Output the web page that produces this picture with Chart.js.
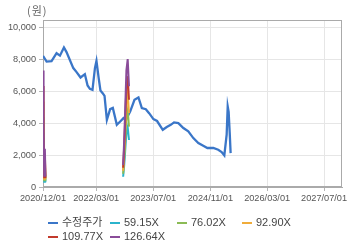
<!DOCTYPE html>
<html>
<head>
<meta charset="utf-8">
<script src="https://cdn.jsdelivr.net/npm/chart.js@4.4.0/dist/chart.umd.min.js"></script>
<style>
  html, body { margin: 0; padding: 0; background: #fff; }
  #wrap { position: relative; width: 360px; height: 248px; font-family: "Liberation Sans", "Noto Sans CJK KR", sans-serif; }
  #unit { position: absolute; left: 27px; top: 2px; font-size: 11px; color: #666; font-family: "Noto Sans CJK KR", sans-serif; letter-spacing: 1px; }
  .lg { position: absolute; font-size: 11px; color: #444; white-space: nowrap; line-height: 12px; }
  .lg i { display: inline-block; width: 10px; height: 2px; margin-right: 4px; vertical-align: middle; }
</style>
</head>
<body>
<div id="wrap">
  <canvas id="chart" width="360" height="248"></canvas>
  <div id="unit">(원)</div>
  <div id="legend"></div>
</div>
<script>
// 수정주가 (adjusted price)
const priceDates = [
  '2020/12/01', '2021/01/01', '2021/02/12', '2021/03/27', '2021/04/25', '2021/05/29',
  '2021/06/20', '2021/08/17', '2021/09/14', '2021/10/18', '2021/11/24', '2021/12/17',
  '2022/01/06', '2022/01/28', '2022/02/18', '2022/03/03', '2022/03/22', '2022/04/06',
  '2022/04/25', '2022/05/11', '2022/05/31', '2022/06/28', '2022/07/21', '2022/08/24',
  '2022/09/22', '2022/10/20', '2022/11/09', '2022/12/16', '2023/01/22', '2023/02/25',
  '2023/03/26', '2023/04/29', '2023/05/27', '2023/07/03', '2023/08/03', '2023/09/21',
  '2023/10/25', '2023/11/28', '2023/12/26', '2024/02/01', '2024/03/15', '2024/04/26',
  '2024/06/08', '2024/07/21', '2024/09/01', '2024/10/06', '2024/11/26', '2025/01/07',
  '2025/02/05', '2025/02/28', '2025/03/20', '2025/03/29', '2025/04/06', '2025/04/15',
  '2025/04/23'
];
const priceValues = [
  8200, 7850, 7870, 8370, 8220, 8730,
  8440, 7440, 7190, 6850, 7060, 6350,
  6140, 6080, 7440, 7890, 6810, 6040,
  5870, 5700, 4200, 4870, 4950, 3890,
  4100, 4310, 4200, 4720, 5460, 5600,
  4940, 4870, 4620, 4250, 4130, 3580,
  3750, 3890, 4040, 4000, 3690, 3480,
  3060, 2750, 2580, 2440, 2440, 2330,
  2190, 1980, 3270, 5040, 4700, 3400,
  2120
];

// PER 밴드 (null = 구간 끊김)
const bandDates = [
  '2020/12/01', '2020/12/06', '2020/12/11', '2020/12/17', '2020/12/22',
  '2021/06/01',
  '2022/10/17', '2022/10/26', '2022/11/03', '2022/11/14', '2022/11/25', '2022/12/06'
];
const band59 = [3410, 1820, 330, 1120, 300, null, 640, 1350, 2200, 3410, 3740, 2940];
const band76 = [4380, 2340, 420, 1440, 390, null, 830, 1740, 2820, 4380, 4800, 3780];
const band92 = [5350, 2860, 510, 1760, 480, null, 1010, 2130, 3450, 5360, 5870, 4620];
const band109 = [6320, 3380, 610, 2080, 560, null, 1200, 2510, 4070, 6330, 6930, 5460];
const band126 = [7290, 3900, 700, 2400, 650, null, 1380, 2900, 4700, 7300, 8000, 6300];

const xTicks = ['2020/12/01', '2022/03/01', '2023/07/01', '2024/11/01', '2026/03/01', '2027/07/01'];
const yTicks = [0, 2000, 4000, 6000, 8000, 10000];

const seriesNames = ['수정주가', '59.15X', '76.02X', '92.90X', '109.77X', '126.64X'];
const seriesColors = ['#3a76c8', '#2bb4cc', '#8bbb55', '#f0ac3a', '#c23a2c', '#8a4c99'];

const FONT = '"Liberation Sans", "Noto Sans CJK KR", sans-serif';

function toTime(s) {
  const [y, m, d] = s.split('/').map(Number);
  return Date.UTC(y, m - 1, d);
}

function fmtDate(t) {
  const d = new Date(t);
  return d.getUTCFullYear() + '/' +
    String(d.getUTCMonth() + 1).padStart(2, '0') + '/' +
    String(d.getUTCDate()).padStart(2, '0');
}

function pts(dates, values) {
  return dates.map((d, i) => ({ x: toTime(d), y: values[i] }));
}

const bands = [band59, band76, band92, band109, band126];

let datasets = [{
  label: seriesNames[0],
  data: pts(priceDates, priceValues),
  borderColor: seriesColors[0],
  borderWidth: 2.3,
  order: 6
}];
bands.forEach((b, i) => {
  datasets.push({
    label: seriesNames[i + 1],
    data: pts(bandDates, b),
    borderColor: seriesColors[i + 1],
    borderWidth: 2,
    order: 5 - i
  });
});

// 차트 영역 테두리
const frame = {
  id: 'frame',
  beforeDatasetsDraw(chart) {
    const { ctx, chartArea: a } = chart;
    ctx.save();
    ctx.strokeStyle = '#aaaaaa';
    ctx.lineWidth = 1;
    ctx.strokeRect(a.left + 0.5, a.top + 0.5, a.right - a.left - 1, a.bottom - a.top - 1);
    ctx.restore();
  }
};

new Chart(document.getElementById('chart'), {
  type: 'line',
  data: { datasets: datasets },
  options: {
    responsive: false,
    animation: false,
    layout: { padding: { top: 20, right: 18, bottom: 43, left: 0 } },
    elements: { point: { radius: 0 }, line: { tension: 0 } },
    plugins: { legend: { display: false }, tooltip: { enabled: false } },
    scales: {
      x: {
        type: 'linear',
        min: toTime('2020/12/01'),
        max: toTime('2027/12/01'),
        afterBuildTicks: s => { s.ticks = xTicks.map(d => ({ value: toTime(d) })); },
        afterFit: s => { s.height = 18; },
        ticks: {
          callback: v => fmtDate(v),
          autoSkip: false,
          maxRotation: 0,
          padding: 2,
          color: '#555',
          font: { family: FONT, size: 9.2 }
        },
        grid: { color: '#e6e6e6', tickLength: 4, tickColor: '#b5b5b5' },
        border: { color: '#aaaaaa' }
      },
      y: {
        min: 0,
        max: 10450,
        afterBuildTicks: s => { s.ticks = yTicks.map(v => ({ value: v })); },
        afterFit: s => { s.width = 43; },
        ticks: {
          callback: v => v.toLocaleString('en-US'),
          padding: 3,
          color: '#555',
          font: { family: FONT, size: 9.2 }
        },
        grid: { color: '#e6e6e6', tickLength: 4, tickColor: '#b5b5b5' },
        border: { color: '#aaaaaa' }
      }
    }
  },
  plugins: [frame]
});

// 범례
const legendCols = [48, 110, 177, 242];
const legendRows = [216, 230];
const legend = document.getElementById('legend');
seriesNames.forEach((name, i) => {
  const el = document.createElement('div');
  el.className = 'lg';
  el.style.left = legendCols[i % 4] + 'px';
  el.style.top = legendRows[Math.floor(i / 4)] + 'px';
  el.innerHTML = '<i style="background:' + seriesColors[i] + '"></i>' + name;
  legend.appendChild(el);
});
</script>
</body>
</html>
